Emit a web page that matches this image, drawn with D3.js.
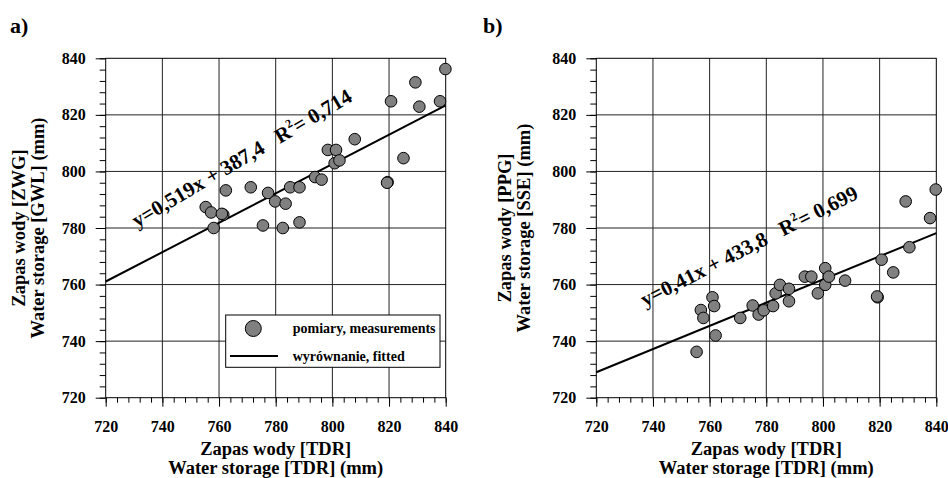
<!DOCTYPE html>
<html>
<head>
<meta charset="utf-8">
<script src="https://cdn.jsdelivr.net/npm/d3@7"></script>
<style>
  body { margin: 0; background: #fff; }
  svg { display: block; }
  text { font-family: "Liberation Serif", "Times New Roman", Times, serif; font-weight: bold; fill: #000; }
</style>
</head>
<body>
<svg id="chart" width="948" height="478"></svg>
<script>
// axis ticks
const majorTicks = [720, 740, 760, 780, 800, 820, 840];
const minorTicks = d3.range(720, 841, 4);

// panel a: TDR vs ZWG/GWL
const tdrA = [755.3, 757.2, 758.1, 761.5, 761.0, 762.4, 771.2, 775.5, 777.3, 779.8, 782.5, 783.5, 785.1, 788.4, 788.4,
  793.9, 796.2, 798.4, 801.3, 800.8, 802.5, 807.9, 819.5, 819.3, 820.7, 825.1, 829.3, 830.7, 838.0, 839.9];
const gwlA = [787.4, 785.5, 780.0, 784.7, 785.0, 793.3, 794.4, 780.9, 792.4, 789.4, 780.0, 788.6, 794.4, 794.4, 782.0,
  798.0, 797.1, 807.6, 807.6, 802.9, 803.9, 811.4, 796.2, 796.0, 824.8, 804.7, 831.5, 822.9, 824.8, 836.2];
const fitA = { slope: 0.519, intercept: 387.4 };

// panel b: TDR vs PPG/SSE
const tdrB = [755.4, 756.9, 757.8, 761.0, 761.6, 762.1, 770.8, 775.2, 777.3, 779.1, 782.4, 783.3, 784.8, 788.0, 788.0,
  793.6, 795.9, 798.2, 800.8, 800.8, 802.1, 807.8, 819.3, 819.1, 820.7, 824.8, 830.5, 829.2, 837.8, 839.8];
const sseB = [736.2, 751.0, 748.2, 755.5, 752.4, 742.0, 748.2, 752.6, 749.4, 750.9, 752.4, 756.9, 759.9, 758.5, 754.1,
  762.8, 762.8, 756.9, 765.8, 759.9, 762.8, 761.4, 755.5, 755.8, 768.8, 764.3, 773.2, 789.4, 783.5, 793.6];
const fitB = { slope: 0.41, intercept: 433.8 };

const serif = '"Liberation Serif", "Times New Roman", Times, serif';
const svg = d3.select('#chart');

function drawPanel(p) {
  const x = d3.scaleLinear().domain([720, 840]).range([p.left, p.left + 340]);
  const y = d3.scaleLinear().domain([720, 840]).range([397.7, 58.3]);
  const g = svg.append('g');

  // grid
  g.append('g').selectAll('line').data(majorTicks.slice(1, -1)).enter().append('line')
    .attr('x1', d => x(d)).attr('x2', d => x(d)).attr('y1', y(720)).attr('y2', y(840))
    .attr('stroke', '#222').attr('stroke-width', 1);
  g.append('g').selectAll('line').data(majorTicks.slice(1, -1)).enter().append('line')
    .attr('x1', x(720)).attr('x2', x(840)).attr('y1', d => y(d)).attr('y2', d => y(d))
    .attr('stroke', '#222').attr('stroke-width', 1);

  // axes
  g.append('g').attr('transform', `translate(0,${y(720)})`)
    .call(d3.axisBottom(x).tickValues(minorTicks).tickSize(5).tickFormat(''));
  g.append('g').attr('transform', `translate(0,${y(720)})`)
    .call(d3.axisBottom(x).tickValues(majorTicks).tickSize(9).tickPadding(14).tickFormat(d3.format('d')));
  g.append('g').attr('transform', `translate(${x(720)},0)`)
    .call(d3.axisLeft(y).tickValues(minorTicks).tickSize(6).tickFormat(''));
  g.append('g').attr('transform', `translate(${x(720)},0)`)
    .call(d3.axisLeft(y).tickValues(majorTicks).tickSize(10).tickPadding(10).tickFormat(d3.format('d')));
  g.selectAll('.domain').remove();
  g.selectAll('.tick line').attr('stroke', '#000');
  g.selectAll('g').attr('font-family', serif).attr('font-size', 16);
  g.selectAll('.tick text').style('font-size', '16px').style('font-family', serif).style('font-weight', 'bold');

  // frame
  g.append('rect').attr('x', x(720)).attr('y', y(840)).attr('width', x(840) - x(720)).attr('height', y(720) - y(840))
    .attr('fill', 'none').attr('stroke', '#000').attr('stroke-width', 1);

  // fitted line
  g.append('line')
    .attr('x1', x(720)).attr('y1', y(p.fit.slope * 720 + p.fit.intercept))
    .attr('x2', x(840)).attr('y2', y(p.fit.slope * 840 + p.fit.intercept))
    .attr('stroke', '#000').attr('stroke-width', 2);

  // points
  g.append('g').selectAll('circle').data(p.xs).enter().append('circle')
    .attr('cx', d => x(d)).attr('cy', (d, i) => y(p.ys[i])).attr('r', 5.8)
    .attr('fill', '#808080').attr('stroke', '#000').attr('stroke-width', 1);

  // equation
  const eq = g.append('text')
    .attr('transform', `translate(${p.eqX},${p.eqY}) rotate(${p.eqAngle})`)
    .style('font-size', '21px');
  eq.append('tspan').text(p.eqText + '\u00a0\u00a0\u00a0R');
  eq.append('tspan').attr('dy', -9).style('font-size', '12px').text('2');
  eq.append('tspan').attr('dy', 9).text('= ' + p.r2Text);

  // axis titles
  const cx = (x(720) + x(840)) / 2;
  g.append('text').attr('x', cx).attr('y', 454.5).attr('text-anchor', 'middle').style('font-size', '18.5px')
    .text('Zapas wody [TDR]');
  g.append('text').attr('x', cx).attr('y', 474).attr('text-anchor', 'middle').style('font-size', '18.5px')
    .text('Water storage [TDR] (mm)');
  const cy = (y(720) + y(840)) / 2;
  g.append('text').attr('transform', `translate(${p.yTitleX},${cy}) rotate(-90)`).attr('text-anchor', 'middle')
    .style('font-size', '18.5px').text(p.yTitle1);
  g.append('text').attr('transform', `translate(${p.yTitleX + 19.5},${cy}) rotate(-90)`).attr('text-anchor', 'middle')
    .style('font-size', '18.5px').text(p.yTitle2);

  // panel letter
  g.append('text').attr('x', p.letterX).attr('y', 33).style('font-size', '22px').text(p.letter);

  return { x, y, g };
}

const pa = drawPanel({
  left: 105.7, xs: tdrA, ys: gwlA, fit: fitA,
  eqText: 'y=0,519x + 387,4', r2Text: '0,714', eqX: 137, eqY: 228, eqAngle: -30.5,
  yTitle1: 'Zapas wody [ZWG]', yTitle2: 'Water storage [GWL] (mm)', yTitleX: 24.5,
  letter: 'a)', letterX: 10
});
const pb = drawPanel({
  left: 596.3, xs: tdrB, ys: sseB, fit: fitB,
  eqText: 'y=0,41x + 433,8', r2Text: '0,699', eqX: 645, eqY: 307, eqAngle: -27,
  yTitle1: 'Zapas wody [PPG]', yTitle2: 'Water storage [SSE] (mm)', yTitleX: 510.5,
  letter: 'b)', letterX: 483
});

// legend in panel a
const lg = pa.g.append('g');
lg.append('rect').attr('x', 225.7).attr('y', 315).attr('width', 214.3).attr('height', 52.3)
  .attr('fill', '#fff').attr('stroke', '#000').attr('stroke-width', 1);
lg.append('circle').attr('cx', 253.3).attr('cy', 328.5).attr('r', 8)
  .attr('fill', '#808080').attr('stroke', '#000').attr('stroke-width', 1);
lg.append('line').attr('x1', 230).attr('x2', 278).attr('y1', 356).attr('y2', 356)
  .attr('stroke', '#000').attr('stroke-width', 2);
lg.append('text').attr('x', 292.7).attr('y', 333).style('font-size', '14px').text('pomiary, measurements');
lg.append('text').attr('x', 292.7).attr('y', 361).style('font-size', '14px').text('wyrównanie, fitted');
</script>
</body>
</html>
